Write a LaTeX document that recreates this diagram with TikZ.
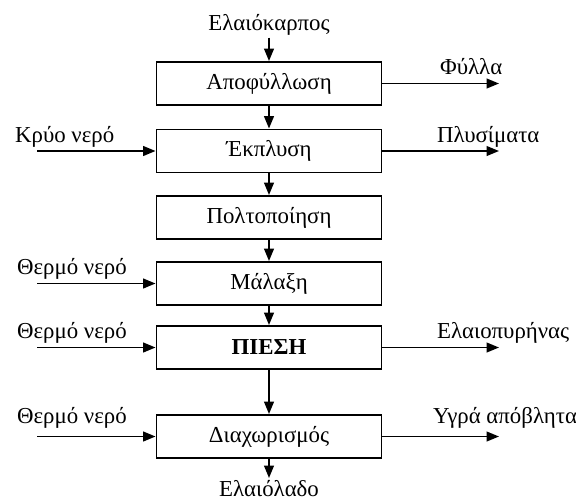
\documentclass[tikz,border=0pt]{standalone}
\usepackage{fontspec}
\setmainfont{Liberation Serif}
\usetikzlibrary{arrows.meta}
\begin{document}
\begin{tikzpicture}[font=\fontsize{13}{15}\selectfont,
  stage/.style={draw, line width=1.1pt, minimum width=4.5cm, minimum height=0.86cm},
  lbl/.style={inner sep=1pt},
  flow/.style={-{Triangle[length=7pt,width=5.5pt]}, line width=1pt}]
\useasboundingbox (0,0) rectangle (11.52,-10.04);
% main line
\node[stage] (apo) at (5.38,-1.67) {Αποφύλλωση};
\node[stage] (ekp) at (5.38,-3.02) {Έκπλυση};
\node[stage] (polt) at (5.38,-4.35) {Πολτοποίηση};
\node[stage] (mal) at (5.38,-5.67) {Μάλαξη};
\node[stage] (pie) at (5.38,-6.95) {\textbf{ΠΙΕΣΗ}};
\node[stage] (diax) at (5.38,-8.73) {Διαχωρισμός};
\node[lbl] (karp) at (5.38,-0.5) {Ελαιόκαρπος};
\node[lbl, anchor=north] (lad) at (5.38,-9.56) {Ελαιόλαδο};
\draw[flow] (karp) -- (apo); \draw[flow] (apo) -- (ekp); \draw[flow] (ekp) -- (polt);
\draw[flow] (polt) -- (mal); \draw[flow] (mal) -- (pie); \draw[flow] (pie) -- (diax);
\draw[flow] (diax) -- (lad);
% inputs
\coordinate (in2) at (0.74,-3.02); \coordinate (in4) at (0.74,-5.67);
\coordinate (in5) at (0.74,-6.95); \coordinate (in6) at (0.74,-8.73);
\node[lbl, anchor=base west] (kry) at (0.26,-2.84) {Κρύο νερό};
\node[lbl, anchor=base west] (ther4) at (0.30,-5.49) {Θερμό νερό};
\node[lbl, anchor=base west] (ther5) at (0.30,-6.77) {Θερμό νερό};
\node[lbl, anchor=base west] (ther6) at (0.30,-8.47) {Θερμό νερό};
\draw[flow] (in2) -- (ekp); \draw[flow] (in4) -- (mal);
\draw[flow] (in5) -- (pie); \draw[flow] (in6) -- (diax);
% outputs
\coordinate (out1) at (9.98,-1.67); \coordinate (out2) at (9.98,-3.02);
\coordinate (out5) at (9.98,-6.95); \coordinate (out6) at (9.98,-8.73);
\node[lbl, anchor=base west] (fyl) at (8.76,-1.49) {Φύλλα};
\node[lbl, anchor=base west] (ply) at (8.70,-2.84) {Πλυσίματα};
\node[lbl, anchor=base west] (pyr) at (8.70,-6.77) {Ελαιοπυρήνας};
\node[lbl, anchor=base west] (ygr) at (8.62,-8.47) {Υγρά απόβλητα};
\draw[flow] (apo) -- (out1); \draw[flow] (ekp) -- (out2);
\draw[flow] (pie) -- (out5); \draw[flow] (diax) -- (out6);
\end{tikzpicture}
\end{document}
